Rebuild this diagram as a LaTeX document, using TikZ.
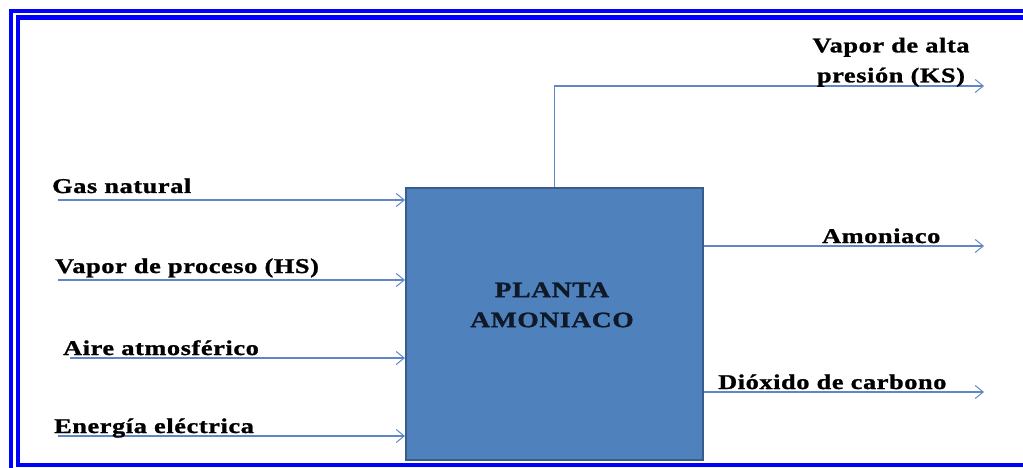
\documentclass[tikz,border=0pt]{standalone}
\usepackage{fontspec}
\setmainfont{Liberation Serif}[FakeStretch=1.25, LetterSpace=3,
  BoldFeatures={FakeBold=1.2}]
\usetikzlibrary{arrows.meta}
\definecolor{frameblue}{RGB}{0,0,255}
\definecolor{flow}{RGB}{95,135,195}
\definecolor{plantfill}{RGB}{79,129,189}
\definecolor{plantedge}{RGB}{56,93,138}
\definecolor{planttext}{RGB}{15,25,40}
\begin{document}
\begin{tikzpicture}[x=1pt,y=-1pt,
  flowline/.style={draw=flow, line width=1.1pt,
    -{Straight Barb[length=8pt,width=13pt,line width=1pt]}},
  lbl/.style={anchor=base west, inner sep=0pt, text=black,
    font=\fontsize{21}{30}\selectfont\bfseries},
  plantbox/.style={draw=plantedge, line width=2pt, fill=plantfill,
    minimum width=297pt, minimum height=272pt, inner sep=0pt},
  planttitle/.style={align=center, inner sep=0pt, text=planttext,
    font=\fontsize{22}{30}\selectfont\bfseries}]
\useasboundingbox (0,0) rectangle (1023,468);
\fill[white] (0,0) rectangle (1023,468);
% double blue frame, cut by the page on the right and at the bottom
\draw[frameblue, line width=4.5pt] (11,11) rectangle (1060,500);
\draw[frameblue, line width=4.5pt] (18,17.5) rectangle (1040,465);

% process block
\node[plantbox] (plant) at (554.5,324) {};
\node[planttitle] (title) at (552,305) {PLANTA\\AMONIACO};

% feed streams
\coordinate (gas) at (58,200);
\coordinate (hs)  at (58,280);
\coordinate (air) at (70,358);
\coordinate (ele) at (58,436);
\draw[flowline] (gas) -- (gas -| plant.west);
\draw[flowline] (hs)  -- (hs -| plant.west);
\draw[flowline] (air) -- (air -| plant.west);
\draw[flowline] (ele) -- (ele -| plant.west);
\node[lbl] (lgas) at (52,193) {Gas natural};
\node[lbl] (lhs)  at (55,273) {Vapor de proceso (HS)};
\node[lbl] (lair) at (63,355) {Aire atmosférico};
\node[lbl] (lele) at (54,433) {Energía eléctrica};

% product streams
\coordinate (ks)  at (984,86);
\coordinate (amo) at (984,246);
\coordinate (co2) at (984,392);
\draw[flowline] (plant.north) |- (ks);
\draw[flowline] (plant.east |- amo) -- (amo);
\draw[flowline] (plant.east |- co2) -- (co2);
\node[lbl, anchor=south, align=center] (lks) at (891,87) {Vapor de alta\\presión (KS)};
\node[lbl] (lamo) at (822,243) {Amoniaco};
\node[lbl] (lco2) at (718,389) {Dióxido de carbono};
\end{tikzpicture}
\end{document}
